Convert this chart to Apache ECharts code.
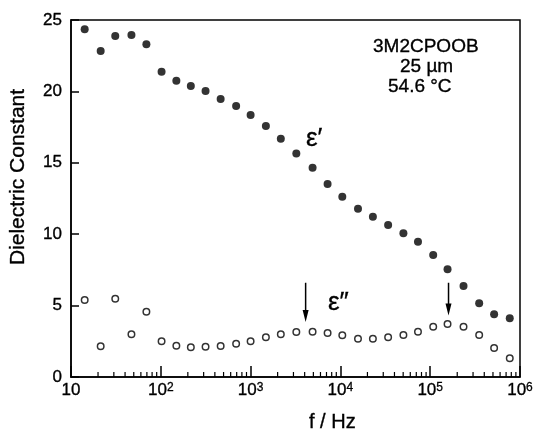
<!DOCTYPE html>
<html>
<head>
<meta charset="utf-8">
<script src="https://cdn.jsdelivr.net/npm/echarts@6/dist/echarts.min.js"></script>
<style>
  html, body { margin: 0; padding: 0; background: #fff; }
  #chart { width: 537px; height: 440px; }
</style>
</head>
<body>
<div id="chart"></div>
<script>
// frequencies (Hz), same for both series
const freq = [14.2, 21.4, 31.1, 47.1, 69.1, 102, 149, 216, 315, 464, 690, 1000, 1480, 2170, 3230,
  4900, 7200, 10500, 15700, 23000, 34000, 50300, 73100, 108000, 156000, 235000, 351000, 515000, 769000];
// ε' (filled)
const epsReal = [24.35, 22.83, 23.88, 23.95, 23.3, 21.38, 20.75, 20.38, 20.03, 19.47, 18.98, 18.35, 17.58, 16.69, 15.66,
  14.66, 13.51, 12.63, 11.79, 11.23, 10.64, 10.06, 9.48, 8.54, 7.54, 6.37, 5.16, 4.39, 4.11];
// ε'' (open)
const epsImag = [5.39, 2.15, 5.48, 2.99, 4.57, 2.5, 2.19, 2.08, 2.12, 2.17, 2.33, 2.5, 2.78, 2.99, 3.15,
  3.17, 3.08, 2.92, 2.68, 2.68, 2.78, 2.94, 3.17, 3.52, 3.71, 3.52, 2.94, 2.03, 1.31];
// arrows marking loss peaks: [freq, yStart, yEnd]
const arrows = [[4100, 6.6, 3.85], [160000, 6.6, 4.3]];
const decades = [10, 100, 1000, 10000, 100000, 1000000];
const minorFactors = [2, 3, 4, 5, 6, 7, 8, 9];

const font = 'Liberation Sans, Arial, sans-serif';
const chart = echarts.init(document.getElementById('chart'));

const minorTicks = [];
decades.slice(0, -1).forEach(d => minorFactors.forEach(m => minorTicks.push([d * m, 0])));

const txt = (text, x, y, size, extra) => ({
  type: 'text', x: x, y: y, silent: true,
  style: Object.assign({ text: text, font: size + 'px ' + font, fill: '#000', stroke: '#000', lineWidth: 0.35 }, extra || {})
});

const option = {
  animation: false,
  grid: { left: 71, right: 17, top: 20, bottom: 63, show: true, borderColor: '#000', borderWidth: 1.5 },
  xAxis: {
    type: 'log', logBase: 10, min: 10, max: 1000000,
    axisLine: { lineStyle: { color: '#000', width: 1.5 } },
    axisTick: { inside: true, length: 11, lineStyle: { color: '#000', width: 1.5 } },
    splitLine: { show: false },
    axisLabel: {
      margin: 5, fontFamily: font, fontSize: 17, color: '#000',
      textBorderColor: '#000', textBorderWidth: 0.35,
      formatter: v => {
        const e = Math.round(Math.log10(v));
        return e === 1 ? '10' : '10{sup|' + e + '}';
      },
      rich: { sup: { fontSize: 12, verticalAlign: 'top', fontFamily: font, color: '#000', textBorderColor: '#000', textBorderWidth: 0.3 } }
    }
  },
  yAxis: {
    type: 'value', min: 0, max: 25, interval: 5,
    axisLine: { lineStyle: { color: '#000', width: 1.5 } },
    axisTick: { inside: true, length: 8, lineStyle: { color: '#000', width: 1.5 } },
    splitLine: { show: false },
    axisLabel: { margin: 9, fontFamily: font, fontSize: 17, color: '#000', textBorderColor: '#000', textBorderWidth: 0.35 }
  },
  graphic: [
    Object.assign(txt('Dielectric Constant', 18, 177, 21, { align: 'center', verticalAlign: 'middle' }), { rotation: Math.PI / 2 }),
    txt('3M2CPOOB', 373, 37, 19),
    txt('25 µm', 400, 57, 19),
    txt('54.6 °C', 388, 77, 19),
    txt('ε′', 306, 126, 26),
    txt('ε″', 328, 290, 26),
    txt('f / Hz', 309, 412, 20)
  ],
  series: [
    {
      type: 'scatter', data: freq.map((f, i) => [f, epsReal[i]]),
      symbol: 'circle', symbolSize: 8, itemStyle: { color: '#000' }
    },
    {
      type: 'scatter', data: freq.map((f, i) => [f, epsImag[i]]),
      symbol: 'circle', symbolSize: 6.5,
      itemStyle: { color: '#fff', borderColor: '#000', borderWidth: 1.5 }
    },
    {
      type: 'custom', data: arrows, silent: true,
      renderItem: (params, api) => {
        const p0 = api.coord([api.value(0), api.value(1)]);
        const p1 = api.coord([api.value(0), api.value(2)]);
        return {
          type: 'group',
          children: [
            { type: 'line', shape: { x1: p0[0], y1: p0[1], x2: p1[0], y2: p1[1] - 8 }, style: { stroke: '#000', lineWidth: 1.5 } },
            { type: 'polygon', shape: { points: [[p1[0] - 3, p1[1] - 12], [p1[0] + 3, p1[1] - 12], [p1[0], p1[1]]] }, style: { fill: '#000' } }
          ]
        };
      }
    },
    {
      // minor ticks of the log axis at 2..9 per decade
      type: 'custom', data: minorTicks, silent: true,
      renderItem: (params, api) => {
        const p = api.coord([api.value(0), 0]);
        return { type: 'line', shape: { x1: p[0], y1: p[1], x2: p[0], y2: p[1] - 5 }, style: { stroke: '#000', lineWidth: 1.2 } };
      }
    }
  ]
};
chart.setOption(option);
</script>
</body>
</html>
